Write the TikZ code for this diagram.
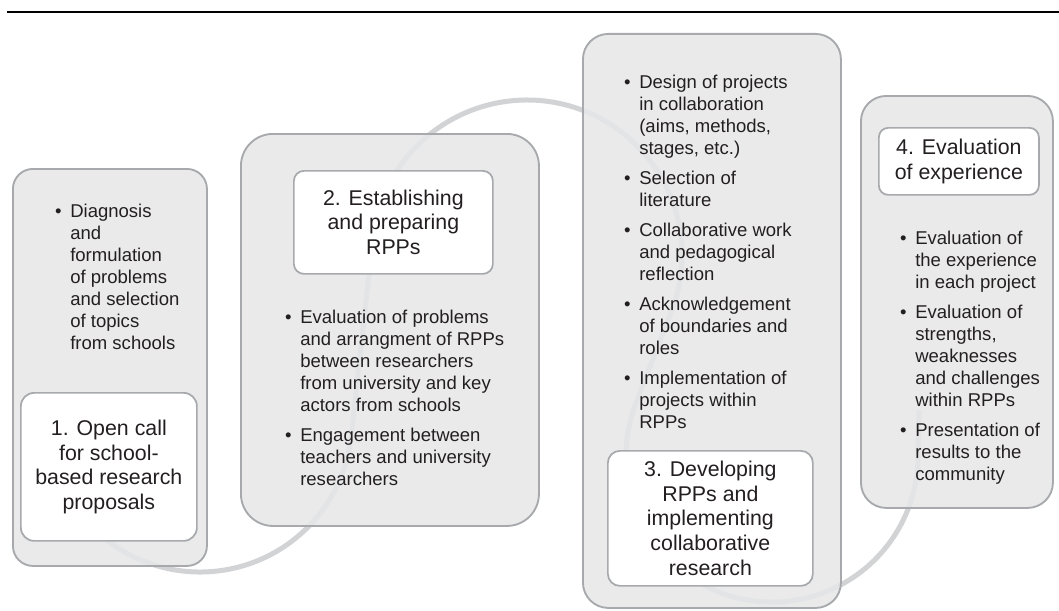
\documentclass[tikz,border=0pt]{standalone}
\usepackage{fontspec}
\setmainfont{Liberation Sans}
\definecolor{boxfill}{HTML}{E6E7E8}
\definecolor{boxline}{HTML}{A7A9AC}
\definecolor{curvecol}{HTML}{D1D3D4}
\definecolor{txt}{HTML}{231F20}
\tikzset{
  greybox/.style={draw=boxline, line width=1.4pt, fill=boxfill, fill opacity=0.86, draw opacity=1,
    inner sep=0pt, anchor=north west},
  titlebox/.style={draw=boxline, line width=1.3pt, fill=white, inner sep=0pt, anchor=north west,
    align=center, text=txt, font=\fontsize{16}{18.4}\selectfont},
  bullets/.style={inner sep=0pt, anchor=north west, align=left, text=txt,
    font=\fontsize{13.9}{16.5}\selectfont},
  wave/.style={draw=curvecol, line width=3.75pt},
}
\newcommand{\itm}{\llap{\textbullet\hspace{6.5pt}}}
\begin{document}
\begin{tikzpicture}[x=0.75pt,y=-0.75pt]
\useasboundingbox (0,0) rectangle (1059,610);
% top rule
\draw[line width=1.1pt, black] (7,12) -- (1059,12);
% background wave
\draw[wave] (68.4,496) .. controls (101.3,552.9) and (166.8,582.2) .. (231.1,568.8)
  .. controls (295.4,555.4) and (343.8,502.2) .. (351.1,436.9)
  -- (372.9,238)
  .. controls (379.5,178.2) and (420.3,127.5) .. (477.3,108.2)
  .. controls (534.3,88.9) and (597.2,104.2) .. (638.9,147.7)
  .. controls (680.6,191.2) and (693.3,254.9) .. (671.5,311)
  -- (635.9,403.2)
  .. controls (614.7,457.9) and (628.2,519.9) .. (670.3,560.8)
  .. controls (712.4,601.7) and (774.8,613.4) .. (828.9,590.5)
  .. controls (883,567.6) and (918,514.7) .. (918,456)
  -- (919,410);
% grey panels
\node[greybox, rounded corners=15pt, minimum width=145.5pt, minimum height=297.75pt] (g1) at (12,168) {};
\node[greybox, rounded corners=24pt, minimum width=223.5pt, minimum height=294pt] (g2) at (240,133) {};
\node[greybox, rounded corners=19pt, minimum width=193.5pt, minimum height=430.5pt] (g3) at (582,33) {};
\node[greybox, rounded corners=19pt, minimum width=144pt, minimum height=309pt] (g4) at (860,95) {};
% title boxes
\node[titlebox, rounded corners=10pt, minimum width=132pt, minimum height=111pt] (t1) at (20,392)
  {1. Open call\\for school-\\based research\\proposals};
\node[titlebox, rounded corners=7.5pt, minimum width=149.25pt, minimum height=77.25pt] (t2) at (293,170)
  {2. Establishing\\and preparing\\RPPs};
\node[titlebox, rounded corners=9pt, minimum width=153.75pt, minimum height=101.25pt] (t3) at (607,450)
  {3. Developing\\RPPs and\\implementing\\collaborative\\research};
\node[titlebox, rounded corners=7pt, minimum width=120pt, minimum height=50.25pt] (t4) at (878,127)
  {4. Evaluation\\of experience};
% bullet lists
\node[bullets] (l1) at (70,201.6)
  {\strut\itm Diagnosis\\and\\formulation\\of problems\\and selection\\of topics\\from schools};
\node[bullets] (l2) at (300,307.6)
  {\strut\itm Evaluation of problems\\and arrangment of RPPs\\between researchers\\from university and key\\actors from schools\\[6pt]
   \itm Engagement between\\teachers and university\\researchers};
\node[bullets] (l3) at (639,72.6)
  {\strut\itm Design of projects\\in collaboration\\(aims, methods,\\stages, etc.)\\[6pt]
   \itm Selection of\\literature\\[6pt]
   \itm Collaborative work\\and pedagogical\\reflection\\[6pt]
   \itm Acknowledgement\\of boundaries and\\roles\\[6pt]
   \itm Implementation of\\projects within\\RPPs};
\node[bullets] (l4) at (915,229)
  {\strut\itm Evaluation of\\the experience\\in each project\\[6pt]
   \itm Evaluation of\\strengths,\\weaknesses\\and challenges\\within RPPs\\[6pt]
   \itm Presentation of\\results to the\\community};
\end{tikzpicture}
\end{document}
